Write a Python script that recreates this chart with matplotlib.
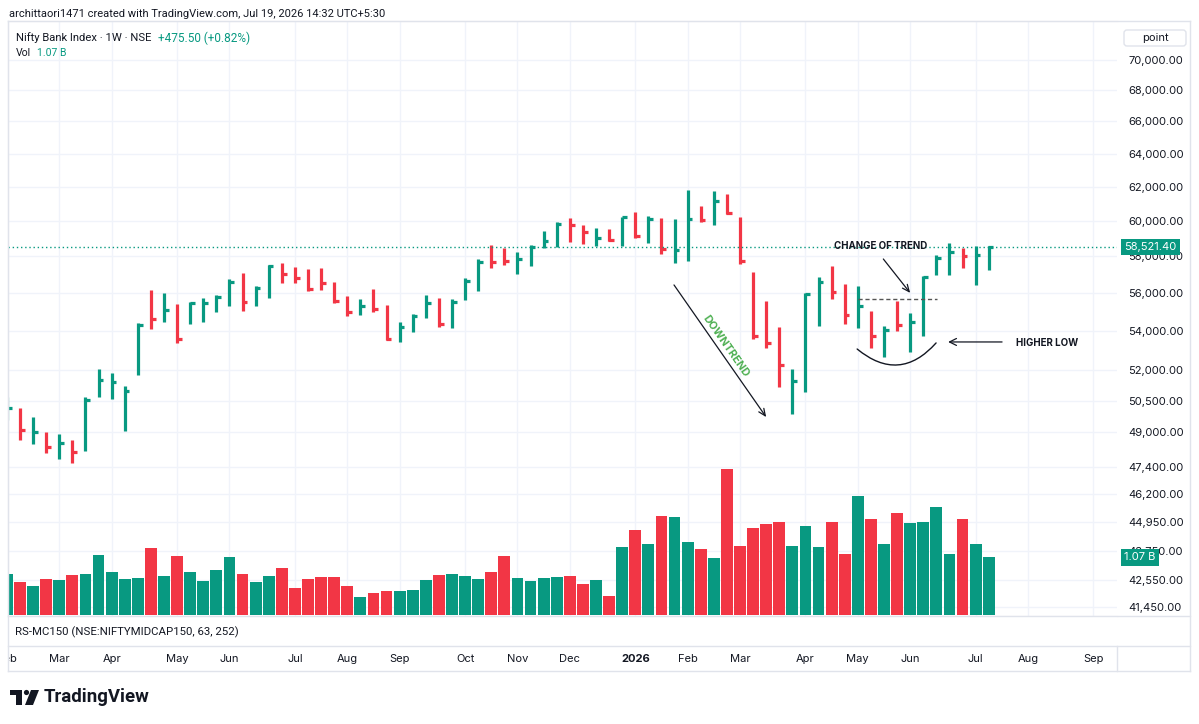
import matplotlib
matplotlib.use("Agg")
import matplotlib.pyplot as plt
import matplotlib.patches as mpatches
from matplotlib.lines import Line2D
from matplotlib.ticker import NullLocator
from matplotlib.transforms import Affine2D, blended_transform_factory
import numpy as np
import pandas as pd

plt.rcParams["font.family"] = ["Inter", "DejaVu Sans"]

# weekly bars, Nifty Bank Index
opens = [49900, 50100, 48900, 49000, 48300, 48600, 48300, 50800, 51300, 50800,
         51900, 55000, 54700, 55100, 54500, 55000, 55300, 55800, 56600, 55600,
         56300, 57450, 57100, 57000, 57000, 56500, 55500, 55000, 55500, 55100,
         53700, 54200, 54800, 55400, 54400, 55650, 56400, 58000, 58200, 57500,
         57800, 58500, 58900, 60000, 59700, 58700, 59400, 59000, 60300, 59200,
         59900, 58000, 58400, 60500, 60200, 61200, 60200, 57000, 53900, 53600,
         51000, 51400, 55700, 57000, 56100, 54800, 54800, 53400, 55000, 53800,
         54500, 57000, 57900, 58300, 57400, 58050]
highs = [50700, 50160, 49700, 49010, 48900, 48640, 50710, 52080, 51880, 51240,
         54430, 56160, 56020, 55400, 55540, 55730, 55900, 56740, 57100, 56380,
         57500, 57640, 57410, 57320, 57350, 56610, 55810, 55670, 56210, 55370,
         54480, 54880, 55900, 55730, 55670, 56800, 57860, 58640, 58450, 58260,
         58640, 59440, 59960, 60190, 59760, 59600, 59560, 60250, 60500, 60300,
         60150, 60110, 61800, 60880, 61740, 61560, 60210, 57130, 55560, 54190,
         52040, 55980, 56880, 57460, 56470, 56380, 55050, 54250, 55580, 54920,
         56930, 58060, 58740, 58450, 58600, 58600]
lows = [49600, 48640, 48470, 48020, 47770, 47600, 48130, 50710, 50600, 49060,
        51750, 54090, 54480, 53400, 54370, 54480, 54960, 55310, 55050, 55310,
        55710, 56510, 56510, 56120, 56160, 55450, 54790, 54830, 55000, 53510,
        53450, 53960, 54650, 54220, 54140, 55620, 56120, 57350, 57500, 57050,
        57460, 58450, 58510, 58790, 58660, 58560, 58830, 58600, 59010, 58740,
        58150, 57640, 57720, 59960, 59760, 60390, 57590, 53600, 53120, 51160,
        49870, 50950, 54250, 55680, 54360, 54140, 53120, 52690, 54010, 52920,
        53760, 56960, 56960, 57350, 56410, 57240]
closes = [50150, 49090, 49010, 48330, 48520, 48080, 50550, 51520, 51440, 50960,
          54300, 54620, 55100, 53580, 55450, 55450, 55760, 56570, 55540, 56290,
          57450, 57050, 56780, 56210, 56550, 55580, 54960, 55310, 55140, 53580,
          54220, 54790, 55450, 54370, 55540, 56660, 57680, 57680, 57720, 57860,
          58510, 58830, 59850, 59760, 59340, 59000, 58930, 60210, 59160, 60090,
          58420, 58360, 60090, 60050, 61140, 60480, 57720, 53750, 53380, 52260,
          51480, 55930, 56570, 56070, 54830, 55310, 53750, 54050, 54300, 54480,
          56840, 57910, 58230, 58000, 58045.9, 58521.4]
# volume in billions
volumes = [0.76, 0.61, 0.54, 0.68, 0.66, 0.74, 0.76, 1.11, 0.81, 0.68,
           0.70, 1.24, 0.72, 1.09, 0.81, 0.64, 0.84, 1.07, 0.77, 0.62,
           0.73, 0.88, 0.50, 0.68, 0.71, 0.71, 0.55, 0.34, 0.41, 0.45,
           0.46, 0.47, 0.65, 0.75, 0.76, 0.73, 0.67, 0.80, 1.09, 0.69,
           0.63, 0.70, 0.71, 0.73, 0.58, 0.66, 0.36, 1.26, 1.57, 1.32,
           1.84, 1.81, 1.35, 1.22, 1.06, 2.71, 1.28, 1.62, 1.69, 1.73,
           1.28, 1.65, 1.26, 1.72, 1.14, 2.21, 1.78, 1.32, 1.89, 1.71,
           1.73, 2.00, 1.14, 1.78, 1.32, 1.07]

month_weeks = ["2025-02-03", "2025-03-03", "2025-03-31", "2025-05-05", "2025-06-02",
               "2025-07-07", "2025-08-04", "2025-09-01", "2025-10-06", "2025-11-03",
               "2025-12-01", "2026-01-05", "2026-02-02", "2026-03-02", "2026-04-06",
               "2026-05-04", "2026-06-01", "2026-07-06", "2026-08-03", "2026-09-07"]
month_labels = ["Feb", "Mar", "Apr", "May", "Jun", "Jul", "Aug", "Sep", "Oct", "Nov",
                "Dec", "2026", "Feb", "Mar", "Apr", "May", "Jun", "Jul", "Aug", "Sep"]

price_ticks = [70000, 68000, 66000, 64000, 62000, 60000, 58000, 56000, 54000, 52000,
               50500, 49000, 47400, 46200, 44950, 43750, 42550, 41450]

last_close = 58521.40
change = 475.50
change_pct = 0.82
last_vol = 1.07

weeks = pd.date_range("2025-02-03", "2026-09-28", freq="W-MON")
week_pos = {d.strftime("%Y-%m-%d"): i for i, d in enumerate(weeks)}
month_pos = [week_pos[d] for d in month_weeks]

GREEN = "#089981"
RED = "#F23645"
TXT = "#131722"
GRID = "#F0F3FA"
BORDER = "#E0E3EB"
HEAD_FONT = ["Roboto", "DejaVu Sans"]

W, H = 1199, 724
fig = plt.figure(figsize=(W / 100, H / 100), dpi=100)
fig.patch.set_facecolor("white")
px = Affine2D().scale(1, -1).translate(0, H)  # pixel coords, y downwards
renderer = fig.canvas.get_renderer()


def box(x0, y0, x1, y1):
    return [x0 / W, 1 - y1 / H, (x1 - x0) / W, (y1 - y0) / H]


def fit(t, width):
    # scale a text so that it spans the width seen in the reference
    w = t.get_window_extent(renderer).width
    t.set_fontsize(t.get_fontsize() * width / w)
    return t


idx = np.arange(len(closes))
up = np.array(closes) >= np.array(opens)
colors = np.where(up, GREEN, RED)
xlim = (0.084, 84.8)

# ---- main price pane ----
ax = fig.add_axes(box(8, 21, 1117, 616))
ax.set_yscale("log")
ax.set_ylim(41093, 72665)
ax.set_xlim(*xlim)
ax.set_xticks(month_pos)
ax.tick_params(axis="x", length=0, labelbottom=False)
ax.grid(True, color=GRID, linewidth=1)
ax.set_axisbelow(True)
for s in ["top", "left", "bottom"]:
    ax.spines[s].set_color(BORDER)
ax.spines["right"].set_visible(False)

ax.vlines(idx, lows, highs, colors=colors, linewidth=2.3)
ax.hlines(closes, idx - 0.05, idx + 0.36, colors=colors, linewidth=2.3)
ax.axhline(last_close, color=GREEN, linewidth=1, linestyle=(0, (1, 2)))

# annotations
ax.annotate("", xy=(58.0, 49720), xytext=(50.96, 56430),
            arrowprops=dict(arrowstyle="->,head_length=0.5,head_width=0.22",
                            color=TXT, lw=0.9, shrinkA=0, shrinkB=0))
ax.text(54.93, 53220, "DOWNTREND", rotation=-55, rotation_mode="anchor",
        ha="center", va="center", color="#4CAF50", fontsize=7.8, fontweight="bold")
ax.text(66.74, 58590, "CHANGE OF TREND", ha="center", va="center",
        color=TXT, fontsize=7.0, fontweight="bold")
ax.annotate("", xy=(69.0, 56000), xytext=(66.95, 57850),
            arrowprops=dict(arrowstyle="->,head_length=0.5,head_width=0.22",
                            color=TXT, lw=0.9, shrinkA=0, shrinkB=0))
ax.hlines(55700, 65.02, 71.05, colors="#555555", linestyles=(0, (3, 2)), linewidth=1)
ax.annotate("", xy=(70.98, 53380), xytext=(64.95, 53070),
            arrowprops=dict(arrowstyle="-", connectionstyle="arc3,rad=0.48",
                            color=TXT, lw=1, shrinkA=0, shrinkB=0))
ax.annotate("", xy=(71.9, 53430), xytext=(76.02, 53430),
            arrowprops=dict(arrowstyle="->,head_length=0.5,head_width=0.25",
                            color=TXT, lw=0.9, shrinkA=0, shrinkB=0))
ax.text(77.09, 53380, "HIGHER LOW", ha="left", va="center",
        color=TXT, fontsize=7.0, fontweight="bold")

# ---- volume overlay ----
axv = ax.twinx()
axv.set_ylim(-0.01, 10.97)
axv.set_xlim(*xlim)
axv.bar(idx, volumes, width=0.9, color=colors, linewidth=0)
axv.set_yticks([])
for s in axv.spines.values():
    s.set_visible(False)
axv.patch.set_visible(False)

# price scale on the right (after twinx, which moves ticks to the left)
ax.yaxis.set_minor_locator(NullLocator())
ax.set_yticks(price_ticks)
ax.set_yticklabels([f"{v:,.2f}" for v in price_ticks])
ax.yaxis.tick_right()
ax.tick_params(axis="y", which="both", left=False, right=False, labelleft=False,
               labelright=True, length=0, pad=8, labelsize=8.0, labelcolor=TXT)

# last value tags on the price scale
tr_p = blended_transform_factory(axv.transAxes, ax.transData)
axv.text(1.0063, last_close, f"{last_close:,.2f}", transform=tr_p, ha="left", va="center",
         color="white", fontsize=8.0, clip_on=False, zorder=10,
         bbox=dict(boxstyle="square,pad=0.3", fc=GREEN, ec="none"))
tr_v = blended_transform_factory(axv.transAxes, axv.transData)
axv.text(1.0063, last_vol, f"{last_vol:.2f} B", transform=tr_v, ha="left", va="center",
         color="white", fontsize=8.0, clip_on=False, zorder=10,
         bbox=dict(boxstyle="square,pad=0.3", fc=GREEN, ec="none"))

# ---- indicator pane ----
ax_rs = fig.add_axes(box(8, 616, 1117, 646))
ax_rs.set_xticks([])
ax_rs.set_yticks([])
for s in ax_rs.spines.values():
    s.set_visible(False)

# ---- time axis ----
ax_t = fig.add_axes(box(8, 646, 1117, 671))
ax_t.set_xlim(*xlim)
ax_t.set_ylim(0, 1)
ax_t.axis("off")
for p, lab in zip(month_pos, month_labels):
    ax_t.text(p, 0.5, lab, ha="center", va="center", fontsize=8.0, color=TXT,
              fontweight="bold" if lab.isdigit() else "normal", clip_on=True)

# frame lines
for (x0, y0, x1, y1) in [(8, 21, 1190, 21), (8, 21, 8, 671), (1190, 21, 1190, 671),
                         (8, 616, 1190, 616), (8, 646, 1190, 646), (8, 671, 1190, 671),
                         (1117, 646, 1117, 671)]:
    fig.add_artist(Line2D([x0, x1], [y0, y1], transform=px, color=BORDER, lw=1))

# header texts
fit(fig.text(9, 14, "archittaori1471 created with TradingView.com, Jul 19, 2026 14:32 UTC+5:30",
             transform=px, ha="left", va="center", fontsize=9, color=TXT,
             family=HEAD_FONT), 379)
fit(fig.text(16, 38, "Nifty Bank Index · 1W · NSE", transform=px, ha="left", va="center",
             fontsize=8.6, color=TXT, family=HEAD_FONT), 136)
fit(fig.text(158, 38, f"+{change:.2f} (+{change_pct:.2f}%)", transform=px, ha="left",
             va="center", fontsize=8.6, color=GREEN, family=HEAD_FONT), 91)
fit(fig.text(16, 53, "Vol", transform=px, ha="left", va="center", fontsize=8.6, color=TXT,
             family=HEAD_FONT), 15)
fit(fig.text(37, 53, f"{last_vol:.2f} B", transform=px, ha="left", va="center",
             fontsize=8.6, color=GREEN, family=HEAD_FONT), 29)
fit(fig.text(15, 632, "RS-MC150 (NSE:NIFTYMIDCAP150, 63, 252)", transform=px, ha="left",
             va="center", fontsize=8.2, color=TXT, family=HEAD_FONT), 223)

# price scale unit box
fig.add_artist(mpatches.FancyBboxPatch((1124, 30), 62, 16, transform=px,
                                       boxstyle="round,pad=0,rounding_size=3",
                                       fc="white", ec=BORDER, lw=1))
fig.text(1155, 38, "point", transform=px, ha="center", va="center", fontsize=8.0, color=TXT)

# TradingView logo
fig.add_artist(mpatches.Polygon([(10, 690), (22, 690), (22, 705), (16, 705), (16, 695), (10, 695)],
                                closed=True, transform=px, fc=TXT, ec="none"))
fig.add_artist(mpatches.Circle((26.5, 692.5), 2.6, transform=px, fc=TXT, ec="none"))
fig.add_artist(mpatches.Polygon([(31, 690), (39, 690), (33, 705), (25, 705)],
                                closed=True, transform=px, fc=TXT, ec="none"))
fit(fig.text(44, 697, "TradingView", transform=px, ha="left", va="center",
             fontsize=14, fontweight="bold", color=TXT, family=HEAD_FONT), 106)

fig.savefig("out.png", dpi=100, facecolor="white")
